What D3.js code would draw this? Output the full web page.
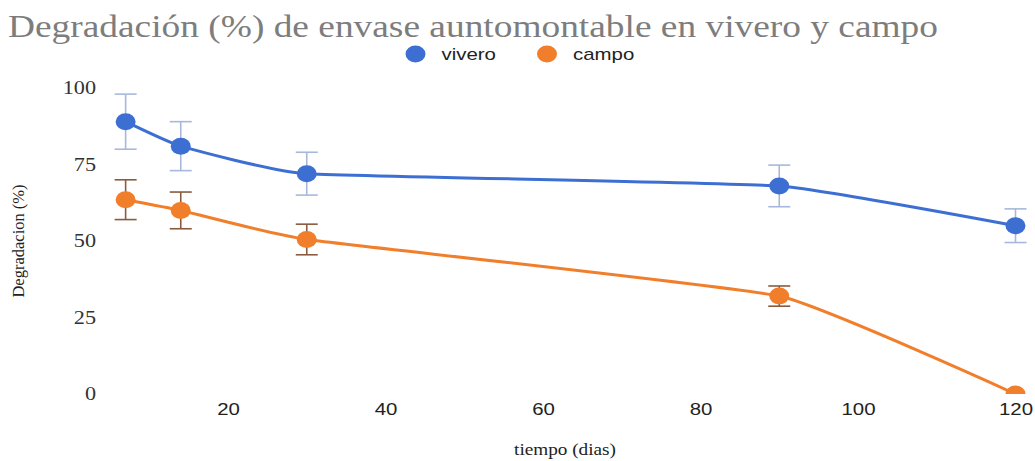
<!DOCTYPE html>
<html>
<head>
<meta charset="utf-8">
<script src="https://cdn.jsdelivr.net/npm/d3@7"></script>
<style>
  html, body { margin: 0; padding: 0; background: #fff; }
  svg { display: block; }
</style>
</head>
<body>
<svg id="chart" width="1035" height="461"></svg>
<script>
// Sampling days and measured degradation (%) with error margins
const days = [7, 14, 30, 90, 120];
const viveroValues = [89, 81, 72, 68, 55];
const viveroErrors = [9, 8, 7, 6.8, 5.5];
const campoValues = [63.5, 60, 50.5, 32, 0];
const campoErrors = [6.5, 6, 5, 3.3, 0];
const xTicks = [20, 40, 60, 80, 100, 120];
const yTicks = [0, 25, 50, 75, 100];

const seriesNames = ["vivero", "campo"];
const seriesColors = ["#3d6fd3", "#f07e2b"];
const errorColors = ["#a8b8dc", "#8a5b3e"];

// Text in this chart is drawn slightly wide
const WIDEN = 1.2;
function widen(sel) {
  sel.each(function () {
    const w = this.getComputedTextLength();
    d3.select(this)
      .attr("textLength", w * WIDEN)
      .attr("lengthAdjust", "spacingAndGlyphs");
  });
}

const svg = d3.select("#chart");

const x = d3.scaleLinear().domain([0, 120]).range([70.5, 1015.5]);
const y = d3.scaleLinear().domain([0, 100]).range([394, 88]);

// Clip region for the plotting area
svg.append("defs").append("clipPath").attr("id", "plotClip")
  .append("rect").attr("x", 0).attr("y", 0).attr("width", 1035).attr("height", y(0));

// Title
svg.append("text")
  .attr("x", 8).attr("y", 37)
  .attr("font-family", "Liberation Serif, Times New Roman, serif")
  .attr("font-size", 32)
  .attr("fill", "#7d7d7d")
  .attr("textLength", 930)
  .attr("lengthAdjust", "spacingAndGlyphs")
  .text("Degradación (%) de envase auntomontable en vivero y campo");

// Legend
const legendX = [415.5, 547];
seriesNames.forEach((name, i) => {
  const g = svg.append("g");
  g.append("ellipse").attr("cx", legendX[i]).attr("cy", 54).attr("rx", 10).attr("ry", 8.5)
    .attr("fill", seriesColors[i]);
  g.append("text").attr("x", legendX[i] + 26).attr("y", 60)
    .attr("font-family", "Liberation Sans, Arial, sans-serif")
    .attr("font-size", 17).attr("fill", "#222")
    .text(name)
    .call(widen);
});

// Y axis tick labels
const yAxis = d3.axisLeft(y).tickValues(yTicks).tickSize(0).tickPadding(0);
const yg = svg.append("g").attr("transform", "translate(96,0)").call(yAxis);
yg.select(".domain").remove();
yg.selectAll("text")
  .attr("font-family", "Liberation Serif, Times New Roman, serif")
  .attr("font-size", 18.5).attr("fill", "#333")
  .call(widen);

// X axis tick labels
const xAxis = d3.axisBottom(x).tickValues(xTicks).tickSize(0).tickPadding(0);
const xg = svg.append("g").attr("transform", "translate(0,403)").call(xAxis);
xg.select(".domain").remove();
xg.selectAll("text")
  .attr("font-family", "Liberation Sans, Arial, sans-serif")
  .attr("font-size", 17).attr("fill", "#222")
  .call(widen);

// Axis titles
svg.append("text")
  .attr("transform", "translate(24,241) rotate(-90)")
  .attr("text-anchor", "middle")
  .attr("font-family", "Liberation Serif, Times New Roman, serif")
  .attr("font-size", 16.5).attr("fill", "#222")
  .text("Degradacion (%)");

svg.append("text")
  .attr("x", 565).attr("y", 455)
  .attr("text-anchor", "middle")
  .attr("font-family", "Liberation Serif, Times New Roman, serif")
  .attr("font-size", 16).attr("fill", "#222")
  .text("tiempo (dias)")
  .call(widen);

// Series: smoothed lines, error bars and markers
const plot = svg.append("g").attr("clip-path", "url(#plotClip)");
const allValues = [viveroValues, campoValues];
const allErrors = [viveroErrors, campoErrors];

const line = d3.line()
  .x(d => x(d[0]))
  .y(d => y(d[1]))
  .curve(d3.curveCardinal.tension(0.65));

allValues.forEach((vals, s) => {
  const pts = days.map((d, i) => [d, vals[i], allErrors[s][i]]);

  plot.append("path")
    .datum(pts)
    .attr("d", line)
    .attr("fill", "none")
    .attr("stroke", seriesColors[s])
    .attr("stroke-width", 3);

  const eb = plot.append("g")
    .attr("stroke", errorColors[s])
    .attr("stroke-width", 1.6)
    .selectAll("g")
    .data(pts.filter(p => p[2] > 0))
    .join("g");
  eb.append("line")
    .attr("x1", p => x(p[0])).attr("x2", p => x(p[0]))
    .attr("y1", p => y(p[1] + p[2])).attr("y2", p => y(p[1] - p[2]));
  eb.append("line")
    .attr("x1", p => x(p[0]) - 11).attr("x2", p => x(p[0]) + 11)
    .attr("y1", p => y(p[1] + p[2])).attr("y2", p => y(p[1] + p[2]));
  eb.append("line")
    .attr("x1", p => x(p[0]) - 11).attr("x2", p => x(p[0]) + 11)
    .attr("y1", p => y(p[1] - p[2])).attr("y2", p => y(p[1] - p[2]));

  plot.append("g")
    .selectAll("ellipse")
    .data(pts)
    .join("ellipse")
    .attr("cx", p => x(p[0]))
    .attr("cy", p => y(p[1]))
    .attr("rx", 10).attr("ry", 8.5)
    .attr("fill", seriesColors[s]);
});
</script>
</body>
</html>
